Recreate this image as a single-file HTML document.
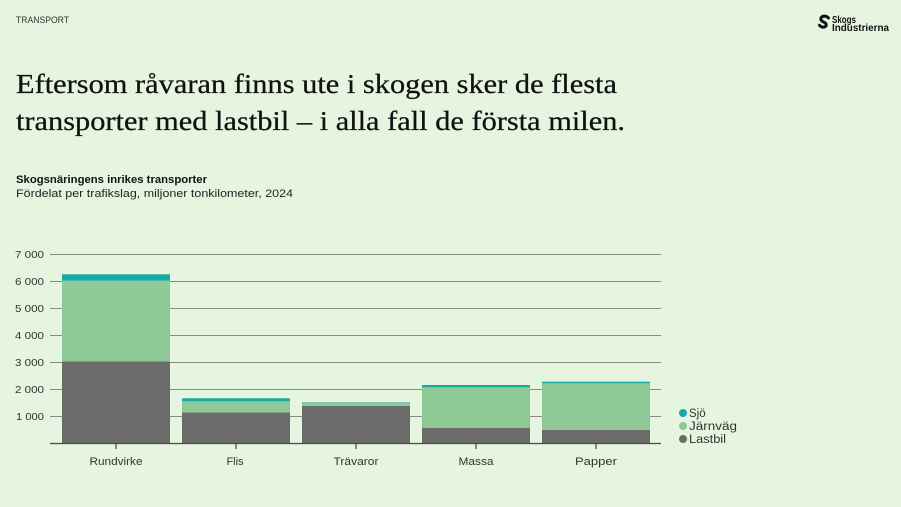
<!DOCTYPE html>
<html>
<head>
<meta charset="utf-8">
<style>
  html,body{margin:0;padding:0;background:#e6f5e0;}
  svg{display:block;}
  .sans{font-family:"Liberation Sans","DejaVu Sans",sans-serif;}
  .serif{font-family:"Liberation Serif","DejaVu Serif",serif;}
</style>
</head>
<body>
<svg width="901" height="507" viewBox="0 0 901 507" xmlns="http://www.w3.org/2000/svg">
  <rect x="0" y="0" width="901" height="507" fill="#e6f5e0"/>

  <!-- header -->
  <text class="sans" x="16" y="23" font-size="9" fill="#333" textLength="53" lengthAdjust="spacingAndGlyphs">TRANSPORT</text>

  <!-- logo -->
  <g fill="none" stroke="#111" stroke-width="3" stroke-linecap="round">
    <path d="M828.5 18 c-2 -2.5 -6.5 -2.5 -7.5 0 c-1 2.5 2 3.8 3.5 4.5 c1.8 0.9 2.5 3 0.5 4.2 c-1.8 1 -4.5 0.3 -5.5 -1.5"/>
  </g>
  <text class="sans" x="832" y="23" font-size="10" font-weight="bold" fill="#111" textLength="24" lengthAdjust="spacingAndGlyphs">Skogs</text>
  <text class="sans" x="832" y="31" font-size="10" font-weight="bold" fill="#111" textLength="57" lengthAdjust="spacingAndGlyphs">Industrierna</text>

  <!-- title -->
  <text class="serif" x="16" y="93" font-size="27" fill="#111" stroke="#111" stroke-width="0.25" textLength="601" lengthAdjust="spacingAndGlyphs">Eftersom råvaran finns ute i skogen sker de flesta</text>
  <text class="serif" x="16" y="130" font-size="27" fill="#111" stroke="#111" stroke-width="0.25" textLength="609" lengthAdjust="spacingAndGlyphs">transporter med lastbil – i alla fall de första milen.</text>

  <!-- subtitle -->
  <text class="sans" x="16" y="183" font-size="11" font-weight="bold" fill="#111" textLength="191" lengthAdjust="spacingAndGlyphs">Skogsnäringens inrikes transporter</text>
  <text class="sans" x="16" y="197" font-size="11" fill="#222" textLength="277" lengthAdjust="spacingAndGlyphs">Fördelat per trafikslag, miljoner tonkilometer, 2024</text>

  <!-- gridlines -->
  <g stroke="#8a8a88" stroke-width="1">
    <line x1="50" y1="254.5" x2="661" y2="254.5"/>
    <line x1="50" y1="281.5" x2="661" y2="281.5"/>
    <line x1="50" y1="308.5" x2="661" y2="308.5"/>
    <line x1="50" y1="335.5" x2="661" y2="335.5"/>
    <line x1="50" y1="362.5" x2="661" y2="362.5"/>
    <line x1="50" y1="389.5" x2="661" y2="389.5"/>
    <line x1="50" y1="416.5" x2="661" y2="416.5"/>
  </g>

  <!-- y labels -->
  <g class="sans" font-size="10.5" fill="#333" text-anchor="end">
    <text x="44" y="258" textLength="29" lengthAdjust="spacingAndGlyphs">7 000</text>
    <text x="44" y="285" textLength="29" lengthAdjust="spacingAndGlyphs">6 000</text>
    <text x="44" y="312" textLength="29" lengthAdjust="spacingAndGlyphs">5 000</text>
    <text x="44" y="339" textLength="29" lengthAdjust="spacingAndGlyphs">4 000</text>
    <text x="44" y="366" textLength="29" lengthAdjust="spacingAndGlyphs">3 000</text>
    <text x="44" y="393" textLength="29" lengthAdjust="spacingAndGlyphs">2 000</text>
    <text x="44" y="420" textLength="28" lengthAdjust="spacingAndGlyphs">1 000</text>
  </g>

  <!-- bars -->
  <!-- Rundvirke -->
  <rect x="62" y="361.3" width="108" height="81.7" fill="#6b6b69"/>
  <rect x="62" y="280.7" width="108" height="80.6" fill="#8fca96"/>
  <rect x="62" y="274.3" width="108" height="6.4" fill="#17aaa5"/>
  <!-- Flis -->
  <rect x="182" y="412.3" width="108" height="30.7" fill="#6b6b69"/>
  <rect x="182" y="401.3" width="108" height="11" fill="#8fca96"/>
  <rect x="182" y="398.3" width="108" height="3" fill="#17aaa5"/>
  <!-- Trävaror -->
  <rect x="302" y="406" width="108" height="37" fill="#6b6b69"/>
  <rect x="302" y="403" width="108" height="3" fill="#8fca96"/>
  <rect x="302" y="402.2" width="108" height="1" fill="#5fbfa8"/>
  <!-- Massa -->
  <rect x="422" y="427.7" width="108" height="15.3" fill="#6b6b69"/>
  <rect x="422" y="387.3" width="108" height="40.4" fill="#8fca96"/>
  <rect x="422" y="385" width="108" height="2.3" fill="#17aaa5"/>
  <!-- Papper -->
  <rect x="542" y="430" width="108" height="13" fill="#6b6b69"/>
  <rect x="542" y="383.3" width="108" height="46.7" fill="#8fca96"/>
  <rect x="542" y="381.7" width="108" height="1.6" fill="#17aaa5"/>

  <!-- axis -->
  <line x1="50" y1="443.5" x2="661" y2="443.5" stroke="#4a4a4a" stroke-width="1.3"/>
  <g stroke="#4a4a4a" stroke-width="1.3">
    <line x1="116" y1="443" x2="116" y2="449"/>
    <line x1="236" y1="443" x2="236" y2="449"/>
    <line x1="356" y1="443" x2="356" y2="449"/>
    <line x1="476" y1="443" x2="476" y2="449"/>
    <line x1="596" y1="443" x2="596" y2="449"/>
  </g>

  <!-- category labels -->
  <g class="sans" font-size="11" fill="#333" text-anchor="middle">
    <text x="116" y="465" textLength="53" lengthAdjust="spacingAndGlyphs">Rundvirke</text>
    <text x="235" y="465">Flis</text>
    <text x="356" y="465" textLength="45" lengthAdjust="spacingAndGlyphs">Trävaror</text>
    <text x="476" y="465" textLength="35" lengthAdjust="spacingAndGlyphs">Massa</text>
    <text x="596" y="465" textLength="42" lengthAdjust="spacingAndGlyphs">Papper</text>
  </g>

  <!-- legend -->
  <circle cx="683" cy="413" r="4" fill="#17aaa5"/>
  <circle cx="683" cy="426" r="4" fill="#8fca96"/>
  <circle cx="683" cy="439" r="4" fill="#6b6b69"/>
  <g class="sans" font-size="11.5" fill="#333">
    <text x="689" y="417">Sjö</text>
    <text x="689" y="430" textLength="48" lengthAdjust="spacingAndGlyphs">Järnväg</text>
    <text x="689" y="443" textLength="37" lengthAdjust="spacingAndGlyphs">Lastbil</text>
  </g>
</svg>
</body>
</html>
